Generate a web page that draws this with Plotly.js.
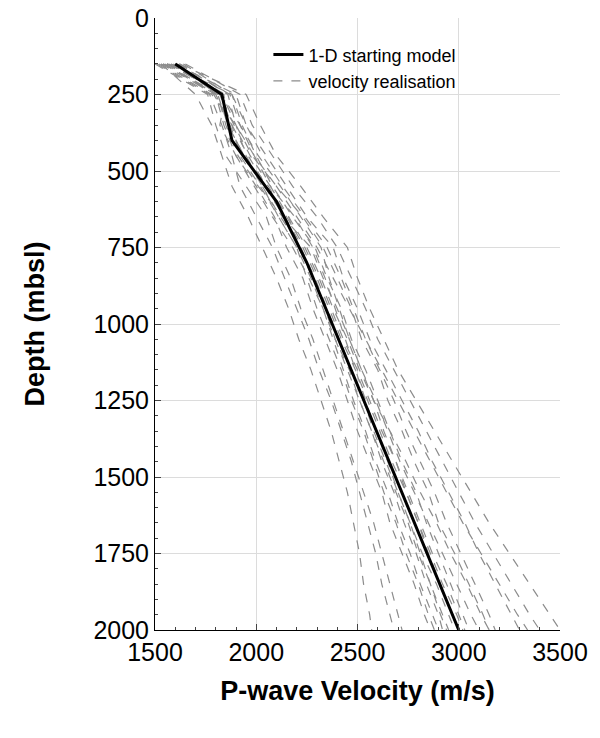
<!DOCTYPE html>
<html>
<head>
<meta charset="utf-8">
<script src="https://cdn.plot.ly/plotly-3.0.1.min.js"></script>
<style>body{margin:0;background:#fff}#plot{width:600px;height:738px}</style>
</head>
<body>
<div id="plot"></div>
<script>
// depths (mbsl) for the starting model
const model_depth = [150, 250, 400, 600, 800, 2000]
const model_vel = [1600, 1830, 1880, 2100, 2250, 3000]

// depths for the realisations
const real_depth = [150, 250, 350, 450, 550, 650, 750, 850, 950, 1050, 1150, 1250, 1350, 1450, 1550, 1650, 1750, 1850, 1950, 2000]
const r01 = [1520, 1780, 1900, 1990, 2100, 2230, 2330, 2400, 2470, 2520, 2600, 2650, 2720, 2780, 2850, 2900, 2980, 3050, 3120, 3150]
const r02 = [1560, 1850, 1820, 1900, 2000, 2090, 2150, 2230, 2280, 2340, 2400, 2450, 2500, 2560, 2620, 2660, 2720, 2780, 2830, 2860]
const r03 = [1600, 1900, 1950, 2050, 2150, 2250, 2380, 2430, 2500, 2560, 2640, 2720, 2800, 2870, 2950, 3030, 3100, 3180, 3260, 3300]
const r04 = [1500, 1760, 1800, 1850, 1950, 2050, 2100, 2170, 2220, 2280, 2330, 2380, 2430, 2480, 2530, 2580, 2620, 2660, 2700, 2720]
const r05 = [1640, 1880, 1930, 2000, 2080, 2180, 2290, 2350, 2420, 2470, 2540, 2600, 2660, 2720, 2790, 2840, 2900, 2960, 3020, 3050]
const r06 = [1580, 1820, 1880, 1960, 2050, 2160, 2250, 2320, 2380, 2450, 2510, 2580, 2660, 2740, 2810, 2890, 2960, 3040, 3110, 3150]
const r07 = [1530, 1800, 1840, 1900, 1990, 2080, 2180, 2260, 2330, 2380, 2430, 2480, 2540, 2590, 2650, 2700, 2760, 2810, 2870, 2900]
const r08 = [1620, 1860, 1900, 1980, 2100, 2200, 2300, 2380, 2460, 2540, 2620, 2700, 2780, 2860, 2940, 3020, 3110, 3200, 3290, 3340]
const r09 = [1550, 1790, 1880, 1920, 2020, 2110, 2200, 2250, 2300, 2360, 2420, 2470, 2530, 2580, 2630, 2690, 2740, 2800, 2850, 2880]
const r10 = [1590, 1840, 1860, 1940, 2060, 2150, 2240, 2310, 2370, 2430, 2500, 2560, 2620, 2690, 2750, 2810, 2870, 2940, 3000, 3030]
const r11 = [1510, 1770, 1830, 1880, 1920, 2000, 2080, 2140, 2200, 2260, 2310, 2370, 2420, 2470, 2510, 2550, 2590, 2620, 2660, 2680]
const r12 = [1650, 1920, 1980, 2080, 2180, 2300, 2400, 2470, 2540, 2600, 2680, 2760, 2840, 2920, 3000, 3080, 3170, 3260, 3350, 3400]
const r13 = [1570, 1830, 1900, 1950, 2030, 2120, 2220, 2290, 2350, 2410, 2470, 2530, 2580, 2640, 2700, 2760, 2820, 2890, 2950, 2980]
const r14 = [1540, 1810, 1850, 1910, 2010, 2130, 2270, 2330, 2400, 2460, 2520, 2590, 2650, 2710, 2780, 2850, 2920, 2990, 3060, 3100]
const r15 = [1610, 1870, 1920, 2010, 2120, 2220, 2320, 2360, 2410, 2460, 2520, 2580, 2630, 2690, 2740, 2800, 2850, 2910, 2970, 3000]
const r16 = [1560, 1800, 1870, 1930, 2040, 2140, 2230, 2300, 2360, 2420, 2490, 2550, 2610, 2670, 2740, 2800, 2860, 2920, 2990, 3020]
const r17 = [1530, 1700, 1780, 1830, 1880, 1960, 2030, 2100, 2160, 2210, 2270, 2320, 2370, 2410, 2450, 2480, 2510, 2530, 2560, 2570]
const r18 = [1620, 1950, 2020, 2100, 2220, 2330, 2450, 2500, 2560, 2630, 2700, 2790, 2880, 2970, 3060, 3150, 3250, 3350, 3450, 3500]
const r19 = [1580, 1830, 1920, 1990, 2070, 2160, 2210, 2280, 2340, 2390, 2460, 2510, 2570, 2620, 2680, 2730, 2790, 2840, 2900, 2920]
const r20 = [1600, 1810, 1860, 1940, 2030, 2110, 2200, 2270, 2330, 2390, 2450, 2510, 2570, 2630, 2690, 2750, 2800, 2860, 2920, 2950]
const r21 = [1560, 1880, 1950, 2030, 2130, 2240, 2350, 2420, 2480, 2540, 2610, 2680, 2740, 2810, 2880, 2940, 3010, 3080, 3150, 3180]
const r22 = [1540, 1820, 1890, 1970, 2070, 2190, 2280, 2340, 2390, 2440, 2490, 2540, 2590, 2650, 2700, 2760, 2810, 2860, 2910, 2940]
const realisations = [r01, r02, r03, r04, r05, r06, r07, r08, r09, r10, r11, r12, r13, r14, r15, r16, r17, r18, r19, r20, r21, r22]

const font = 'Liberation Sans, Arial, sans-serif'
var data = []

for (let [i, vel] of realisations.entries()) {
  data.push({
    x: vel, y: real_depth, type: 'scatter', mode: 'lines',
    name: 'velocity realisation', showlegend: i == 0, legendrank: 2,
    line: {color: '#8c8c8c', width: 1.2, dash: 'dash'}
  })
}

data.push({
  x: model_vel, y: model_depth, type: 'scatter', mode: 'lines',
  name: '1-D starting model', legendrank: 1,
  line: {color: '#000', width: 3}
})

var layout = {
  width: 600, height: 738,
  margin: {l: 155, r: 40, t: 18, b: 108},
  paper_bgcolor: '#fff', plot_bgcolor: '#fff',
  font: {family: font, color: '#000', size: 20},
  showlegend: true,
  legend: {x: 0.28, y: 0.97, xanchor: 'left', yanchor: 'top', bgcolor: 'rgba(0,0,0,0)', font: {size: 18}, tracegroupgap: 0},
  xaxis: {
    range: [1500, 3500], dtick: 500, showgrid: true, gridcolor: '#dcdcdc',
    showline: true, linecolor: '#000', ticks: 'inside', ticklen: 6,
    tickfont: {size: 25},
    minor: {dtick: 100, ticks: 'inside', ticklen: 3, showgrid: false},
    title: {text: '<b>P-wave Velocity (m/s)</b>', font: {size: 27}, standoff: 16},
    zeroline: false
  },
  yaxis: {
    range: [2000, 0], dtick: 250, showgrid: true, gridcolor: '#dcdcdc',
    showline: true, linecolor: '#000', ticks: 'inside', ticklen: 6,
    tickfont: {size: 25},
    minor: {dtick: 50, ticks: 'inside', ticklen: 3, showgrid: false},
    title: {text: '<b>Depth (mbsl)</b>', font: {size: 27}, standoff: 40},
    zeroline: false
  }
}

Plotly.newPlot('plot', data, layout, {displayModeBar: false})
</script>
</body>
</html>
